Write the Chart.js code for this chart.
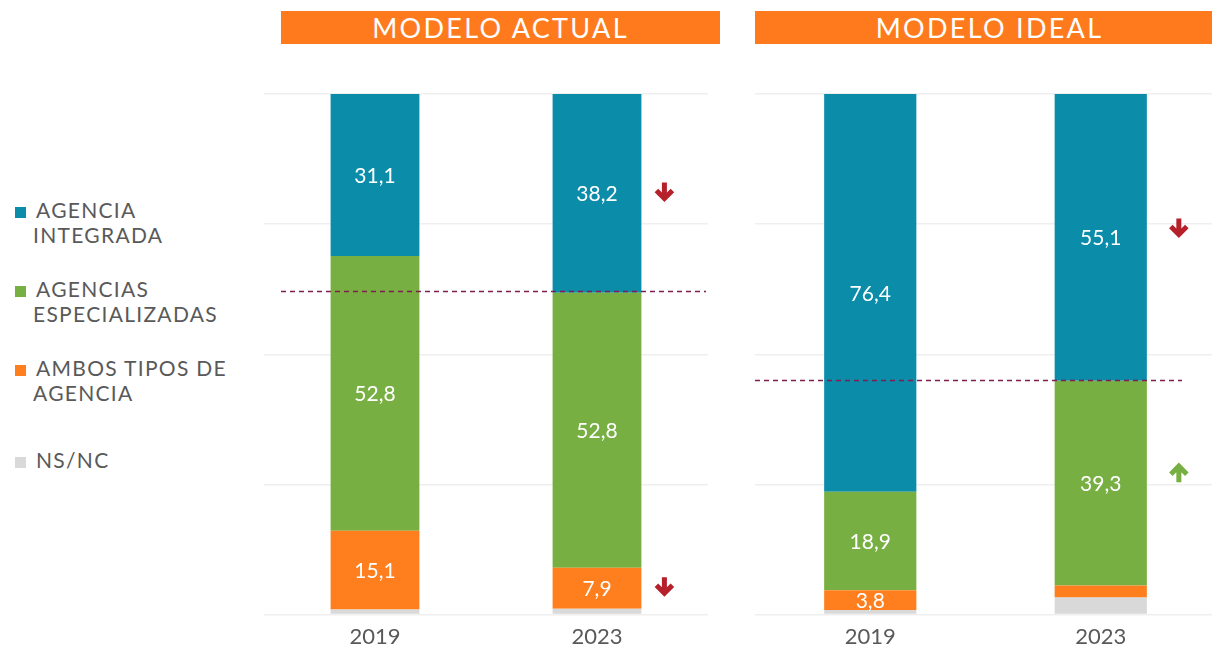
<!DOCTYPE html>
<html>
<head>
<meta charset="utf-8">
<script src="https://cdn.jsdelivr.net/npm/chart.js@4.4.1/dist/chart.umd.min.js"></script>
<style>
  html, body { margin: 0; padding: 0; background: #fff; overflow: hidden; }
  body { width: 1212px; height: 648px; position: relative; font-family: Lato, sans-serif; overflow: hidden; }
  .banner {
    position: absolute; top: 11px; height: 33px; background: #FF7A1C; color: #fff;
    font-size: 27px; line-height: 34px; text-align: center; letter-spacing: 2.3px;
  }
  .panel { position: absolute; top: 82px; height: 577px; }
  #legend { position: absolute; left: 33px; top: 197px; color: #595959; font-size: 21px; line-height: 25px; letter-spacing: 1.3px; }
  #legend .item { margin-bottom: 29px; }
  #legend .item:last-child { margin-top: 42px; }
  #legend .sw { display: inline-block; width: 11px; height: 11px; margin: 0 10px 0 -18px; }
</style>
</head>
<body>
<div class="banner" style="left:281px; width:439px;">MODELO ACTUAL</div>
<div class="banner" style="left:755px; width:445px; padding-left:12px;">MODELO IDEAL</div>
<div id="legend"></div>
<div class="panel" style="left:264px; width:444px;"><canvas id="chartActual"></canvas></div>
<div class="panel" style="left:755px; width:461px;"><canvas id="chartIdeal"></canvas></div>

<script>
// Data

const years = ["2019", "2023"];

// stacked bottom -> top
const seriesNames = [
    ["NS/NC"],
    ["AMBOS TIPOS DE", "AGENCIA"],
    ["AGENCIAS", "ESPECIALIZADAS"],
    ["AGENCIA", "INTEGRADA"],
];
const seriesColors = ["#D9D9D9", "#FF7F1E", "#77AF42", "#0B8CA9"];
const showValues = [false, true, true, true];

// Modelo actual
const actualNsnc = [1.0, 1.1];
const actualAmbos = [15.1, 7.9];
const actualEspecializadas = [52.8, 52.8];
const actualIntegrada = [31.1, 38.2];
const actualRefLine = [62.2];
const actualTrend2023 = [0, -1, 0, -1]; // -1 down, 1 up

// Modelo ideal
const idealNsnc = [0.9, 3.3];
const idealAmbos = [3.8, 2.3];
const idealEspecializadas = [18.9, 39.3];
const idealIntegrada = [76.4, 55.1];
const idealRefLine = [45.1];
const idealTrend2023 = [0, 0, 1, -1];

// ----- ----- ----- ----- -----

// Legend (top to bottom)
const legendEl = document.getElementById("legend");
for (let i = seriesNames.length - 1; i >= 0; i--) {
    const item = document.createElement("div");
    item.className = "item";
    item.innerHTML = '<span class="sw" style="background:' + seriesColors[i] + '"></span>' + seriesNames[i].join("<br>");
    legendEl.appendChild(item);
}

// Plugins

const valueLabels = {
    id: "valueLabels",
    afterDatasetsDraw(chart) {
        const ctx = chart.ctx;
        ctx.save();
        ctx.fillStyle = "#fff";
        ctx.font = "21px Lato";
        ctx.textAlign = "center";
        ctx.textBaseline = "middle";
        chart.data.datasets.forEach((ds, di) => {
            if (!showValues[di]) return;
            chart.getDatasetMeta(di).data.forEach((bar, i) => {
                const v = ds.data[i];
                if (v < 3) return;
                ctx.fillText(v.toFixed(1).replace(".", ","), bar.x, (bar.y + bar.base) / 2 + 1);
            });
        });
        ctx.restore();
    },
};

const extras = {
    id: "extras",
    afterDatasetsDraw(chart, args, opts) {
        const ctx = chart.ctx;
        const area = chart.chartArea;
        const y = chart.scales.y;
        ctx.save();
        // dashed reference line
        ctx.strokeStyle = "#7E1F50";
        ctx.lineWidth = 1.5;
        ctx.setLineDash([5, 4]);
        ctx.beginPath();
        const ly = Math.round(y.getPixelForValue(opts.refLine[0])) + 0.5;
        ctx.moveTo(area.left + opts.lineStart, ly);
        ctx.lineTo(area.right - opts.lineEnd, ly);
        ctx.stroke();
        ctx.setLineDash([]);
        // trend arrows next to the 2023 bar
        opts.trend.forEach((t, di) => {
            if (!t) return;
            const bar = chart.getDatasetMeta(di).data[1];
            const ax = bar.x + bar.width / 2 + opts.arrowDx;
            const ay = (bar.y + bar.base) / 2 + opts.arrowDy;
            const s = -t; // canvas y grows downwards
            ctx.strokeStyle = t < 0 ? "#B5202A" : "#77AF42";
            ctx.lineWidth = 5;
            ctx.lineJoin = "miter";
            ctx.beginPath();
            ctx.moveTo(ax, ay - 9 * s);
            ctx.lineTo(ax, ay + 6 * s);
            ctx.moveTo(ax - 8, ay - 1 * s);
            ctx.lineTo(ax, ay + 7 * s);
            ctx.lineTo(ax + 8, ay - 1 * s);
            ctx.stroke();
        });
        ctx.restore();
    },
};

Chart.defaults.font.family = "Lato";

setupChart = (canvasId, stacks, refLine, trend, extraOpts) => {
    const config = {
        type: "bar",
        data: {
            labels: years,
            datasets: stacks.map((values, i) => ({
                label: seriesNames[i].join(" "),
                data: values,
                backgroundColor: seriesColors[i],
                borderWidth: 0,
                barPercentage: 0.4,
                categoryPercentage: 1,
            })),
        },
        options: {
            responsive: true,
            maintainAspectRatio: false,
            animation: false,
            layout: { padding: { top: 12, left: 0, right: 0, bottom: 0 } },
            plugins: {
                legend: { display: false },
                tooltip: { enabled: false },
                extras: Object.assign({ refLine, trend }, extraOpts),
            },
            scales: {
                x: {
                    stacked: true,
                    grid: { display: false, drawTicks: false },
                    border: { display: false },
                    ticks: { color: "#595959", font: { size: 22 }, padding: 9 },
                },
                y: {
                    stacked: true,
                    min: 0,
                    max: 100,
                    ticks: { display: false, stepSize: 25 },
                    grid: { color: "#EFEFEF", lineWidth: 1.5, drawTicks: false },
                    border: { display: false },
                },
            },
        },
        plugins: [valueLabels, extras],
    };
    return new Chart(document.getElementById(canvasId), config);
};

setupChart("chartActual",
    [actualNsnc, actualAmbos, actualEspecializadas, actualIntegrada],
    actualRefLine, actualTrend2023,
    { lineStart: 17, lineEnd: 2, arrowDx: 23, arrowDy: -2 });

setupChart("chartIdeal",
    [idealNsnc, idealAmbos, idealEspecializadas, idealIntegrada],
    idealRefLine, idealTrend2023,
    { lineStart: 0, lineEnd: 34, arrowDx: 32, arrowDy: -10 });
</script>
</body>
</html>
